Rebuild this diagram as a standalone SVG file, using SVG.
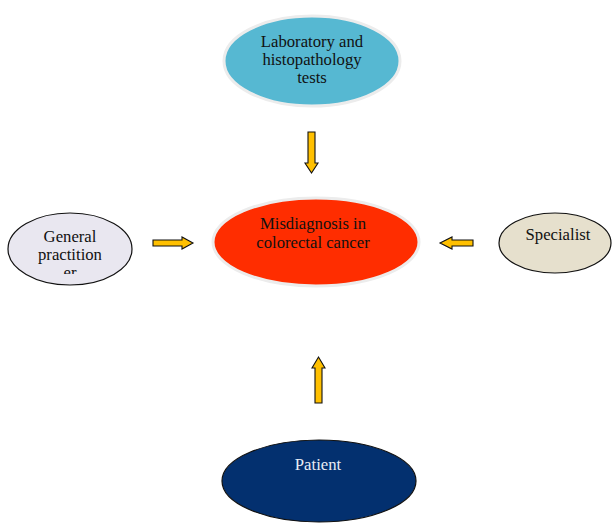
<svg xmlns="http://www.w3.org/2000/svg" width="612" height="525" viewBox="0 0 612 525">
<style>
text{font-family:"Liberation Serif","DejaVu Serif",serif;font-size:16.7px;fill:#111;text-anchor:middle}
.glow{stroke:#ececec;stroke-width:3}
.blk{stroke:#111;stroke-width:1.2}
.arr{fill:#FFC000;stroke:#111;stroke-width:1.1;stroke-linejoin:miter}
</style>
<defs>
<clipPath id="gpclip"><rect x="0" y="200" width="140" height="74"/></clipPath>
</defs>
<rect width="612" height="525" fill="#fff"/>
<g id="lab">
<ellipse cx="312" cy="61" rx="88" ry="45" fill="#56B8D2" class="glow"/>
<text x="312" y="47">Laboratory and</text>
<text x="312" y="65">histopathology</text>
<text x="312" y="83">tests</text>
</g>
<g id="misdiagnosis">
<ellipse cx="316" cy="242" rx="103" ry="44" fill="#FF2D00" class="glow"/>
<text x="313" y="229">Misdiagnosis in</text>
<text x="313" y="248">colorectal cancer</text>
</g>
<g id="gp">
<ellipse cx="70" cy="249" rx="62" ry="36" fill="#E9E7F0" class="blk"/>
<g clip-path="url(#gpclip)">
<text x="70" y="242">General</text>
<text x="70" y="260">practition</text>
<text x="70" y="278">er</text>
</g>
</g>
<g id="specialist">
<ellipse cx="555" cy="243" rx="56" ry="30" fill="#E6E0CD" class="blk"/>
<text x="558" y="240">Specialist</text>
</g>
<g id="patient">
<ellipse cx="319" cy="481" rx="97" ry="41" fill="#03306F" class="blk"/>
<text x="318" y="470" style="fill:#e8ecf4">Patient</text>
</g>
<g id="connectors">
<polygon class="arr" points="153,240 182,240 182,237 193,243 182,249 182,246 153,246"/>
<polygon class="arr" points="473,240 452,240 452,237 440,243 452,249 452,246 473,246"/>
<polygon class="arr" points="308,132 315,132 315,163 318,163 311.5,173 305,163 308,163"/>
<polygon class="arr" points="315,403 322,403 322,368 325,368 318.5,357 312,368 315,368"/>
</g>
</svg>
